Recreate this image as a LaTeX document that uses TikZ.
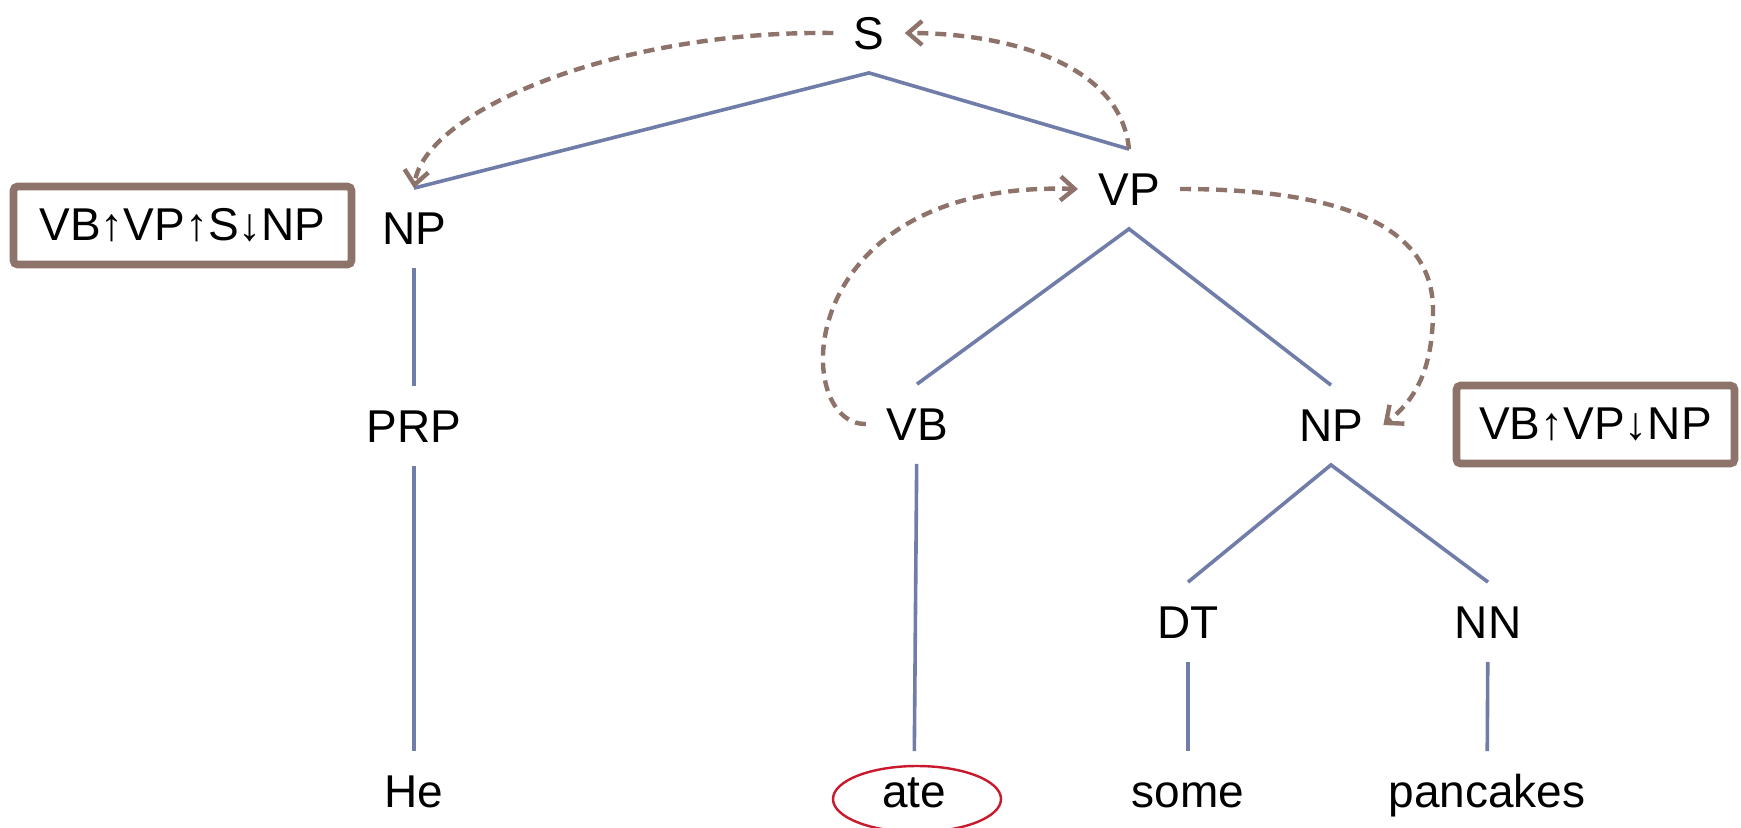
\documentclass[tikz,border=0pt]{standalone}
\usepackage{fontspec}
\setmainfont{Liberation Sans}
\usetikzlibrary{arrows.meta}

\definecolor{treeblue}{RGB}{112,125,168}
\definecolor{hopbrown}{RGB}{141,115,106}
\definecolor{ringred}{RGB}{200,25,45}

\begin{document}
\begin{tikzpicture}[
    x=0.5pt, y=-0.5pt,
    every node/.style={font=\fontsize{23}{28}\selectfont},
    cat/.style={inner xsep=10pt, inner ysep=11.5pt, text height=16.5pt, text depth=0pt},
    branch/.style={treeblue, line width=1.8pt},
    hop/.style={hopbrown, line width=2.2pt, dash pattern=on 5.5pt off 3.5pt, -{Straight Barb[length=7pt, width=12pt]}},
    tag/.style={draw=hopbrown, line width=3.8pt, rounded corners=2pt, minimum height=39pt, inner sep=0pt}
]
\useasboundingbox (0,0) rectangle (1741,827);

\node[cat] (S) at (869,33) {S};
\node[cat] (np1) at (414,228) {NP};
\node[cat] (VP) at (1129,189) {VP};
\node[cat] (prp) at (414,426) {PRP};
\node[cat] (vb) at (917,424) {VB};
\node[cat] (np2) at (1331,425) {NP};
\node[cat] (dt) at (1188,622) {DT};
\node[cat] (nn) at (1488,622) {NN};
\node[cat] (he) at (414,791) {He};
\node[cat] (ate) at (914,791) {ate};
\node[cat] (some) at (1188,791) {some};
\node[cat] (pancakes) at (1487,791) {pancakes};

\node[tag, minimum width=169pt] (path1) at (182.5,225.5) {VB↑VP↑S↓NP};
\node[tag, minimum width=139pt] (path2) at (1595.5,424.5) {VB↑VP↓NP};

\draw[branch] (np1.north) -- (S.south) -- (VP.north);
\draw[branch] (vb.north) -- (VP.south) -- (np2.north);
\draw[branch] (dt.north) -- (np2.south) -- (nn.north);
\draw[branch] (np1) -- (prp);
\draw[branch] (prp) -- (he);
\draw[branch] (vb) -- (ate);
\draw[branch] (dt) -- (some);
\draw[branch] (nn) -- (pancakes);

\draw[ringred, line width=1.2pt] ([shift={(3,8)}]ate.center) ellipse [x radius=42pt, y radius=16.5pt];

\draw[hop] (S.west) .. controls (620,30) and (425,110) .. (np1.north);
\draw[hop] (VP.north) .. controls (1120,60) and (1000,33) .. (S.east);
\draw[hop] (vb.west) .. controls (790,425) and (790,180) .. (VP.west);
\draw[hop] (VP.east) .. controls (1350,189) and (1433,230) .. (1433,310)
    .. controls (1433,370) and (1415,400) .. (np2.east);
\end{tikzpicture}
\end{document}
